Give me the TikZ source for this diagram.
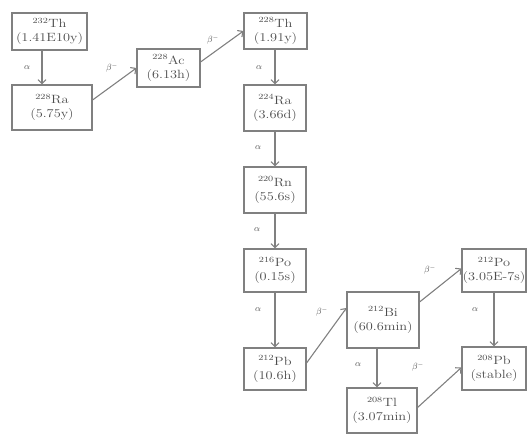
\documentclass[tikz,border=0pt]{standalone}
\usepackage{graphicx}
\usetikzlibrary{arrows.meta,calc}
\definecolor{boxline}{gray}{0.5}
\definecolor{txt}{gray}{0.3}
\tikzset{
  nuc/.style={draw=boxline, line width=1.1bp, inner sep=0pt, align=center, text=txt,
    font=\fontsize{12}{14.5}\selectfont},
  arr/.style={draw=boxline, line width=1.1bp, -{Straight Barb[length=4bp,width=8bp]}},
  lab/.style={text=txt, font=\fontsize{9}{10}\selectfont, inner sep=0pt},
}
\newcommand{\nucl}[3]{\scalebox{1.2}[1]{$^{#1}$#2}\\\scalebox{1.2}[1]{(#3)}}
\begin{document}
\begin{tikzpicture}[x=1bp,y=-1bp]
\useasboundingbox (0,0) rectangle (527,436);
% nodes
\node[nuc, minimum width=75bp, minimum height=37bp] (th232) at (49.5,31.5) {\nucl{232}{Th}{1.41E10y}};
\node[nuc, minimum width=80bp, minimum height=45bp] (ra228) at (52,107.5) {\nucl{228}{Ra}{5.75y}};
\node[nuc, minimum width=63bp, minimum height=38bp] (ac228) at (168.5,68) {\nucl{228}{Ac}{6.13h}};
\node[nuc, minimum width=63bp, minimum height=36bp] (th228) at (275.5,31) {\nucl{228}{Th}{1.91y}};
\node[nuc, minimum width=62bp, minimum height=46bp] (ra224) at (275,108) {\nucl{224}{Ra}{3.66d}};
\node[nuc, minimum width=62bp, minimum height=46bp] (rn220) at (275,190) {\nucl{220}{Rn}{55.6s}};
\node[nuc, minimum width=62bp, minimum height=43bp] (po216) at (275,270.5) {\nucl{216}{Po}{0.15s}};
\node[nuc, minimum width=62bp, minimum height=42bp] (pb212) at (275,369) {\nucl{212}{Pb}{10.6h}};
\node[nuc, minimum width=72bp, minimum height=56bp] (bi212) at (383,320) {\nucl{212}{Bi}{60.6min}};
\node[nuc, minimum width=64bp, minimum height=43bp] (po212) at (494,270.5) {\nucl{212}{Po}{3.05E-7s}};
\node[nuc, minimum width=64bp, minimum height=43bp] (pb208) at (494,368.5) {\nucl{208}{Pb}{stable}};
\node[nuc, minimum width=70bp, minimum height=45bp] (tl208) at (382,410.5) {\nucl{208}{Tl}{3.07min}};
% vertical arrows
\draw[arr] (th232.south -| 42,0) -- (ra228.north -| 42,0);
\draw[arr] (th228.south -| ra224.north) -- (ra224.north);
\draw[arr] (ra224) -- (rn220);
\draw[arr] (rn220) -- (po216);
\draw[arr] (po216) -- (pb212);
\draw[arr] (bi212.south -| 377,0) -- (tl208.north -| 377,0);
\draw[arr] (po212) -- (pb208);
% diagonal arrows
\draw[arr] ($(ra228.east)+(0,-7.5)$) -- (ac228.west);
\draw[arr] ($(ac228.east)+(0,-6)$) -- (th228.west);
\draw[arr] ($(pb212.east)+(0,-6)$) -- ($(bi212.west)+(0,-12)$);
\draw[arr] ($(bi212.east)+(0,-18)$) -- ($(po212.west)+(0,-2)$);
\draw[arr] ($(tl208.east)+(0,-3)$) -- ($(pb208.west)+(0,-1)$);
% labels
\node[lab] (l1) at (27,68) {$\alpha$};
\node[lab] (l2) at (112,68) {$\beta^-$};
\node[lab] (l3) at (213,40) {$\beta^-$};
\node[lab] (l4) at (259,68) {$\alpha$};
\node[lab] (l5) at (258,148) {$\alpha$};
\node[lab] (l6) at (257,230) {$\alpha$};
\node[lab] (l7) at (258,310) {$\alpha$};
\node[lab] (l8) at (322,312) {$\beta^-$};
\node[lab] (l9) at (358,365) {$\alpha$};
\node[lab] (l10) at (430,270) {$\beta^-$};
\node[lab] (l11) at (418,367) {$\beta^-$};
\node[lab] (l12) at (475,310) {$\alpha$};
\end{tikzpicture}
\end{document}
